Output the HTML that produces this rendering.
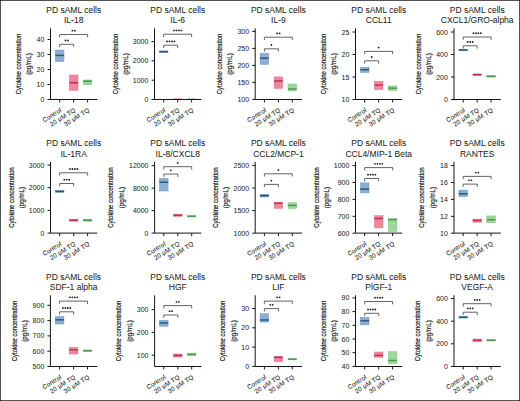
<!DOCTYPE html>
<html><head><meta charset="utf-8"><style>
html,body{margin:0;padding:0;background:#fff;}
svg{display:block;}
text{font-family:"Liberation Sans",sans-serif;fill:#1e1e1e;stroke:#1e1e1e;stroke-width:0;}
.t{font-size:8.5px;text-anchor:middle;stroke-width:0.05px;}
.yl{font-size:7.6px;text-anchor:middle;stroke-width:0.2px;}
.tk{font-size:7px;text-anchor:end;stroke-width:0.04px;}
.xl{font-size:6.3px;letter-spacing:0.12px;text-anchor:end;stroke-width:0.06px;}
.st{font-size:5.9px;text-anchor:middle;}
.ax{fill:none;stroke:#151515;stroke-width:1;}
.br{fill:none;stroke:#484848;stroke-width:0.85;}
</style></head><body>
<svg width="520" height="401" viewBox="0 0 520 401">
<rect x="0" y="0" width="520" height="401" fill="#fff"/>
<g><text class="t" x="73.7" y="12.6">PD sAML cells</text><text class="t" x="73.7" y="23">IL-18</text><text class="yl" transform="translate(20.5,64) rotate(-90)" x="0" y="0" textLength="60.5" lengthAdjust="spacingAndGlyphs">Cytokine concentration</text><text class="yl" transform="translate(31,64) rotate(-90)" x="0" y="0" textLength="21.5" lengthAdjust="spacingAndGlyphs">(pg/mL)</text><rect x="55.4" y="50" width="8.6" height="11.7" fill="#8aafd5" stroke="#6e95bf" stroke-width="0.5"/><line x1="55.4" x2="64" y1="55.4" y2="55.4" stroke="#30567c" stroke-width="1.5"/><rect x="69.4" y="75" width="8.6" height="15.4" fill="#ec879c" stroke="#d9758a" stroke-width="0.5"/><line x1="69.4" x2="78" y1="82.7" y2="82.7" stroke="#c2304f" stroke-width="1.5"/><rect x="83.3" y="80" width="8.6" height="4.7" fill="#9cd89a" stroke="#80c07e" stroke-width="0.5"/><line x1="83.3" x2="91.9" y1="81.2" y2="81.2" stroke="#4c9a4a" stroke-width="1.5"/><path class="ax" d="M50.5 28.3V99.5H97.3"/><path class="ax" d="M47.5 99.5H50.5"/><text class="tk" x="44.4" y="102">0</text><path class="ax" d="M47.5 84.5H50.5"/><text class="tk" x="44.4" y="87">10</text><path class="ax" d="M47.5 69.5H50.5"/><text class="tk" x="44.4" y="72">20</text><path class="ax" d="M47.5 54.5H50.5"/><text class="tk" x="44.4" y="57">30</text><path class="ax" d="M47.5 39.5H50.5"/><text class="tk" x="44.4" y="42">40</text><path class="ax" d="M59.7 99.5V102.5"/><text class="xl" transform="translate(62.1,111.3) rotate(-32)">Control</text><path class="ax" d="M73.7 99.5V102.5"/><text class="xl" transform="translate(76.1,111.3) rotate(-32)">20 μM TQ</text><path class="ax" d="M87.6 99.5V102.5"/><text class="xl" transform="translate(90,111.3) rotate(-32)">30 μM TQ</text><path class="br" d="M59.7 47.1V44.3H73.7V47.1"/><circle cx="65.48" cy="40.5" r="0.9" fill="#1c1c1c"/><circle cx="67.92" cy="40.5" r="0.9" fill="#1c1c1c"/><path class="br" d="M59.7 37.3V34.5H87.6V37.3"/><circle cx="72.43" cy="30.7" r="0.9" fill="#1c1c1c"/><circle cx="74.88" cy="30.7" r="0.9" fill="#1c1c1c"/></g>
<g><text class="t" x="177.7" y="12.6">PD sAML cells</text><text class="t" x="177.7" y="23">IL-6</text><text class="yl" transform="translate(117.6,64) rotate(-90)" x="0" y="0" textLength="60.5" lengthAdjust="spacingAndGlyphs">Cytokine concentration</text><text class="yl" transform="translate(128.1,64) rotate(-90)" x="0" y="0" textLength="21.5" lengthAdjust="spacingAndGlyphs">(pg/mL)</text><rect x="159.4" y="50.9" width="8.6" height="1.6" fill="#8aafd5" stroke="#6e95bf" stroke-width="0.5"/><line x1="159.4" x2="168" y1="51.7" y2="51.7" stroke="#30567c" stroke-width="1.5"/><rect x="173.4" y="98" width="8.6" height="1" fill="#d9758a" opacity="0.6"/><rect x="187.3" y="98" width="8.6" height="1" fill="#80c07e" opacity="0.6"/><path class="ax" d="M154.5 28.3V99.5H201.3"/><path class="ax" d="M151.5 99.5H154.5"/><text class="tk" x="148.4" y="102">0</text><path class="ax" d="M151.5 80.2H154.5"/><text class="tk" x="148.4" y="82.7">1000</text><path class="ax" d="M151.5 60.9H154.5"/><text class="tk" x="148.4" y="63.4">2000</text><path class="ax" d="M151.5 41.6H154.5"/><text class="tk" x="148.4" y="44.1">3000</text><path class="ax" d="M163.7 99.5V102.5"/><text class="xl" transform="translate(166.1,111.3) rotate(-32)">Control</text><path class="ax" d="M177.7 99.5V102.5"/><text class="xl" transform="translate(180.1,111.3) rotate(-32)">20 μM TQ</text><path class="ax" d="M191.6 99.5V102.5"/><text class="xl" transform="translate(194,111.3) rotate(-32)">30 μM TQ</text><path class="br" d="M163.7 48V45.2H177.7V48"/><circle cx="167.02" cy="41.4" r="0.9" fill="#1c1c1c"/><circle cx="169.47" cy="41.4" r="0.9" fill="#1c1c1c"/><circle cx="171.92" cy="41.4" r="0.9" fill="#1c1c1c"/><circle cx="174.38" cy="41.4" r="0.9" fill="#1c1c1c"/><path class="br" d="M163.7 37V34.2H191.6V37"/><circle cx="173.97" cy="30.4" r="0.9" fill="#1c1c1c"/><circle cx="176.42" cy="30.4" r="0.9" fill="#1c1c1c"/><circle cx="178.87" cy="30.4" r="0.9" fill="#1c1c1c"/><circle cx="181.32" cy="30.4" r="0.9" fill="#1c1c1c"/></g>
<g><text class="t" x="278.4" y="12.6">PD sAML cells</text><text class="t" x="278.4" y="23">IL-9</text><text class="yl" transform="translate(221.6,64) rotate(-90)" x="0" y="0" textLength="60.5" lengthAdjust="spacingAndGlyphs">Cytokine concentration</text><text class="yl" transform="translate(232.1,64) rotate(-90)" x="0" y="0" textLength="21.5" lengthAdjust="spacingAndGlyphs">(pg/mL)</text><rect x="260.1" y="53.3" width="8.6" height="11" fill="#8aafd5" stroke="#6e95bf" stroke-width="0.5"/><line x1="260.1" x2="268.7" y1="58.2" y2="58.2" stroke="#30567c" stroke-width="1.5"/><rect x="274.1" y="76.9" width="8.6" height="11.5" fill="#ec879c" stroke="#d9758a" stroke-width="0.5"/><line x1="274.1" x2="282.7" y1="81" y2="81" stroke="#c2304f" stroke-width="1.5"/><rect x="288" y="84" width="8.6" height="6.8" fill="#9cd89a" stroke="#80c07e" stroke-width="0.5"/><line x1="288" x2="296.6" y1="89" y2="89" stroke="#4c9a4a" stroke-width="1.5"/><path class="ax" d="M255.2 28.3V99.5H302"/><path class="ax" d="M252.2 99.4H255.2"/><text class="tk" x="249.1" y="101.9">100</text><path class="ax" d="M252.2 82.4H255.2"/><text class="tk" x="249.1" y="84.9">150</text><path class="ax" d="M252.2 65.4H255.2"/><text class="tk" x="249.1" y="67.9">200</text><path class="ax" d="M252.2 48.4H255.2"/><text class="tk" x="249.1" y="50.9">250</text><path class="ax" d="M252.2 31.4H255.2"/><text class="tk" x="249.1" y="33.9">300</text><path class="ax" d="M264.4 99.5V102.5"/><text class="xl" transform="translate(266.8,111.3) rotate(-32)">Control</text><path class="ax" d="M278.4 99.5V102.5"/><text class="xl" transform="translate(280.8,111.3) rotate(-32)">20 μM TQ</text><path class="ax" d="M292.3 99.5V102.5"/><text class="xl" transform="translate(294.7,111.3) rotate(-32)">30 μM TQ</text><path class="br" d="M264.4 51.6V48.8H278.4V51.6"/><circle cx="271.4" cy="45" r="0.9" fill="#1c1c1c"/><path class="br" d="M264.4 40V37.2H292.3V40"/><circle cx="277.12" cy="33.4" r="0.9" fill="#1c1c1c"/><circle cx="279.58" cy="33.4" r="0.9" fill="#1c1c1c"/></g>
<g><text class="t" x="378.7" y="12.6">PD sAML cells</text><text class="t" x="378.7" y="23">CCL11</text><text class="yl" transform="translate(325.8,64) rotate(-90)" x="0" y="0" textLength="60.5" lengthAdjust="spacingAndGlyphs">Cytokine concentration</text><text class="yl" transform="translate(336.3,64) rotate(-90)" x="0" y="0" textLength="21.5" lengthAdjust="spacingAndGlyphs">(pg/mL)</text><rect x="360.4" y="67.3" width="8.6" height="5.2" fill="#8aafd5" stroke="#6e95bf" stroke-width="0.5"/><line x1="360.4" x2="369" y1="69.7" y2="69.7" stroke="#30567c" stroke-width="1.5"/><rect x="374.4" y="81.4" width="8.6" height="8.1" fill="#ec879c" stroke="#d9758a" stroke-width="0.5"/><line x1="374.4" x2="383" y1="85.1" y2="85.1" stroke="#c2304f" stroke-width="1.5"/><rect x="388.3" y="86" width="8.6" height="4.3" fill="#9cd89a" stroke="#80c07e" stroke-width="0.5"/><line x1="388.3" x2="396.9" y1="88.2" y2="88.2" stroke="#4c9a4a" stroke-width="1.5"/><path class="ax" d="M355.5 28.3V99.5H402.3"/><path class="ax" d="M352.5 99.5H355.5"/><text class="tk" x="349.4" y="102">10</text><path class="ax" d="M352.5 77H355.5"/><text class="tk" x="349.4" y="79.5">15</text><path class="ax" d="M352.5 54.5H355.5"/><text class="tk" x="349.4" y="57">20</text><path class="ax" d="M352.5 32H355.5"/><text class="tk" x="349.4" y="34.5">25</text><path class="ax" d="M364.7 99.5V102.5"/><text class="xl" transform="translate(367.1,111.3) rotate(-32)">Control</text><path class="ax" d="M378.7 99.5V102.5"/><text class="xl" transform="translate(381.1,111.3) rotate(-32)">20 μM TQ</text><path class="ax" d="M392.6 99.5V102.5"/><text class="xl" transform="translate(395,111.3) rotate(-32)">30 μM TQ</text><path class="br" d="M364.7 63.6V60.8H378.7V63.6"/><circle cx="371.7" cy="57" r="0.9" fill="#1c1c1c"/><path class="br" d="M364.7 54.2V51.4H392.6V54.2"/><circle cx="378.65" cy="47.6" r="0.9" fill="#1c1c1c"/></g>
<g><text class="t" x="477.2" y="12.6">PD sAML cells</text><text class="t" x="477.2" y="23">CXCL1/GRO-alpha</text><text class="yl" transform="translate(420.6,64) rotate(-90)" x="0" y="0" textLength="60.5" lengthAdjust="spacingAndGlyphs">Cytokine concentration</text><text class="yl" transform="translate(431.1,64) rotate(-90)" x="0" y="0" textLength="21.5" lengthAdjust="spacingAndGlyphs">(pg/mL)</text><rect x="458.9" y="49.2" width="8.6" height="1.6" fill="#8aafd5" stroke="#6e95bf" stroke-width="0.5"/><line x1="458.9" x2="467.5" y1="50" y2="50" stroke="#30567c" stroke-width="1.5"/><rect x="472.9" y="73.9" width="8.6" height="1.6" fill="#ec879c" stroke="#d9758a" stroke-width="0.5"/><line x1="472.9" x2="481.5" y1="74.7" y2="74.7" stroke="#c2304f" stroke-width="1.5"/><rect x="486.8" y="75.5" width="8.6" height="1.6" fill="#9cd89a" stroke="#80c07e" stroke-width="0.5"/><line x1="486.8" x2="495.4" y1="76.3" y2="76.3" stroke="#4c9a4a" stroke-width="1.5"/><path class="ax" d="M454 28.3V99.5H500.8"/><path class="ax" d="M451 99.5H454"/><text class="tk" x="447.9" y="102">0</text><path class="ax" d="M451 77H454"/><text class="tk" x="447.9" y="79.5">200</text><path class="ax" d="M451 54.5H454"/><text class="tk" x="447.9" y="57">400</text><path class="ax" d="M451 32H454"/><text class="tk" x="447.9" y="34.5">600</text><path class="ax" d="M463.2 99.5V102.5"/><text class="xl" transform="translate(465.6,111.3) rotate(-32)">Control</text><path class="ax" d="M477.2 99.5V102.5"/><text class="xl" transform="translate(479.6,111.3) rotate(-32)">20 μM TQ</text><path class="ax" d="M491.1 99.5V102.5"/><text class="xl" transform="translate(493.5,111.3) rotate(-32)">30 μM TQ</text><path class="br" d="M463.2 48.6V45.8H477.2V48.6"/><circle cx="467.75" cy="42" r="0.9" fill="#1c1c1c"/><circle cx="470.2" cy="42" r="0.9" fill="#1c1c1c"/><circle cx="472.65" cy="42" r="0.9" fill="#1c1c1c"/><path class="br" d="M463.2 39.8V37H491.1V39.8"/><circle cx="473.47" cy="33.2" r="0.9" fill="#1c1c1c"/><circle cx="475.92" cy="33.2" r="0.9" fill="#1c1c1c"/><circle cx="478.38" cy="33.2" r="0.9" fill="#1c1c1c"/><circle cx="480.82" cy="33.2" r="0.9" fill="#1c1c1c"/></g>
<g><text class="t" x="73.7" y="146.2">PD sAML cells</text><text class="t" x="73.7" y="156.6">IL-1RA</text><text class="yl" transform="translate(13.6,197.6) rotate(-90)" x="0" y="0" textLength="60.5" lengthAdjust="spacingAndGlyphs">Cytokine concentration</text><text class="yl" transform="translate(24.1,197.6) rotate(-90)" x="0" y="0" textLength="21.5" lengthAdjust="spacingAndGlyphs">(pg/mL)</text><rect x="55.4" y="190.4" width="8.6" height="2" fill="#8aafd5" stroke="#6e95bf" stroke-width="0.5"/><line x1="55.4" x2="64" y1="191.4" y2="191.4" stroke="#30567c" stroke-width="1.5"/><rect x="69.4" y="219.2" width="8.6" height="2" fill="#ec879c" stroke="#d9758a" stroke-width="0.5"/><line x1="69.4" x2="78" y1="220.2" y2="220.2" stroke="#c2304f" stroke-width="1.5"/><rect x="83.3" y="219.2" width="8.6" height="2" fill="#9cd89a" stroke="#80c07e" stroke-width="0.5"/><line x1="83.3" x2="91.9" y1="220.2" y2="220.2" stroke="#4c9a4a" stroke-width="1.5"/><path class="ax" d="M50.5 161.9V233.1H97.3"/><path class="ax" d="M47.5 233.1H50.5"/><text class="tk" x="44.4" y="235.6">0</text><path class="ax" d="M47.5 210.4H50.5"/><text class="tk" x="44.4" y="212.9">1000</text><path class="ax" d="M47.5 187.7H50.5"/><text class="tk" x="44.4" y="190.2">2000</text><path class="ax" d="M47.5 165H50.5"/><text class="tk" x="44.4" y="167.5">3000</text><path class="ax" d="M59.7 233.1V236.1"/><text class="xl" transform="translate(62.1,244.9) rotate(-32)">Control</text><path class="ax" d="M73.7 233.1V236.1"/><text class="xl" transform="translate(76.1,244.9) rotate(-32)">20 μM TQ</text><path class="ax" d="M87.6 233.1V236.1"/><text class="xl" transform="translate(90,244.9) rotate(-32)">30 μM TQ</text><path class="br" d="M59.7 186.3V183.5H73.7V186.3"/><circle cx="64.25" cy="179.7" r="0.9" fill="#1c1c1c"/><circle cx="66.7" cy="179.7" r="0.9" fill="#1c1c1c"/><circle cx="69.15" cy="179.7" r="0.9" fill="#1c1c1c"/><path class="br" d="M59.7 175.6V172.8H87.6V175.6"/><circle cx="69.98" cy="169" r="0.9" fill="#1c1c1c"/><circle cx="72.43" cy="169" r="0.9" fill="#1c1c1c"/><circle cx="74.88" cy="169" r="0.9" fill="#1c1c1c"/><circle cx="77.33" cy="169" r="0.9" fill="#1c1c1c"/></g>
<g><text class="t" x="177.8" y="146.2">PD sAML cells</text><text class="t" x="177.8" y="156.6">IL-8/CXCL8</text><text class="yl" transform="translate(113.4,197.6) rotate(-90)" x="0" y="0" textLength="60.5" lengthAdjust="spacingAndGlyphs">Cytokine concentration</text><text class="yl" transform="translate(123.9,197.6) rotate(-90)" x="0" y="0" textLength="21.5" lengthAdjust="spacingAndGlyphs">(pg/mL)</text><rect x="159.5" y="178.4" width="8.6" height="12.6" fill="#8aafd5" stroke="#6e95bf" stroke-width="0.5"/><line x1="159.5" x2="168.1" y1="182.2" y2="182.2" stroke="#30567c" stroke-width="1.5"/><rect x="173.5" y="214.2" width="8.6" height="2.1" fill="#ec879c" stroke="#d9758a" stroke-width="0.5"/><line x1="173.5" x2="182.1" y1="215.2" y2="215.2" stroke="#c2304f" stroke-width="1.5"/><rect x="187.4" y="215.6" width="8.6" height="1.4" fill="#9cd89a" stroke="#80c07e" stroke-width="0.5"/><line x1="187.4" x2="196" y1="216.3" y2="216.3" stroke="#4c9a4a" stroke-width="1.5"/><path class="ax" d="M154.6 161.9V233.1H201.4"/><path class="ax" d="M151.6 233.1H154.6"/><text class="tk" x="148.5" y="235.6">0</text><path class="ax" d="M151.6 210.6H154.6"/><text class="tk" x="148.5" y="213.1">4000</text><path class="ax" d="M151.6 188.1H154.6"/><text class="tk" x="148.5" y="190.6">8000</text><path class="ax" d="M151.6 165.6H154.6"/><text class="tk" x="148.5" y="168.1">12000</text><path class="ax" d="M163.8 233.1V236.1"/><text class="xl" transform="translate(166.2,244.9) rotate(-32)">Control</text><path class="ax" d="M177.8 233.1V236.1"/><text class="xl" transform="translate(180.2,244.9) rotate(-32)">20 μM TQ</text><path class="ax" d="M191.7 233.1V236.1"/><text class="xl" transform="translate(194.1,244.9) rotate(-32)">30 μM TQ</text><path class="br" d="M163.8 176.9V174.1H177.8V176.9"/><circle cx="170.8" cy="170.3" r="0.9" fill="#1c1c1c"/><path class="br" d="M163.8 169.5V166.7H191.7V169.5"/><circle cx="177.75" cy="162.9" r="0.9" fill="#1c1c1c"/></g>
<g><text class="t" x="278.4" y="146.2">PD sAML cells</text><text class="t" x="278.4" y="156.6">CCL2/MCP-1</text><text class="yl" transform="translate(217.6,197.6) rotate(-90)" x="0" y="0" textLength="60.5" lengthAdjust="spacingAndGlyphs">Cytokine concentration</text><text class="yl" transform="translate(228.1,197.6) rotate(-90)" x="0" y="0" textLength="21.5" lengthAdjust="spacingAndGlyphs">(pg/mL)</text><rect x="260.1" y="194.2" width="8.6" height="2.8" fill="#8aafd5" stroke="#6e95bf" stroke-width="0.5"/><line x1="260.1" x2="268.7" y1="195.7" y2="195.7" stroke="#30567c" stroke-width="1.5"/><rect x="274.1" y="202.2" width="8.6" height="6.2" fill="#ec879c" stroke="#d9758a" stroke-width="0.5"/><line x1="274.1" x2="282.7" y1="203.2" y2="203.2" stroke="#c2304f" stroke-width="1.5"/><rect x="288" y="202.8" width="8.6" height="5.6" fill="#9cd89a" stroke="#80c07e" stroke-width="0.5"/><line x1="288" x2="296.6" y1="205.4" y2="205.4" stroke="#4c9a4a" stroke-width="1.5"/><path class="ax" d="M255.2 161.9V233.1H302"/><path class="ax" d="M252.2 233.2H255.2"/><text class="tk" x="249.1" y="235.7">1000</text><path class="ax" d="M252.2 210.6H255.2"/><text class="tk" x="249.1" y="213.1">1500</text><path class="ax" d="M252.2 188H255.2"/><text class="tk" x="249.1" y="190.5">2000</text><path class="ax" d="M252.2 165.4H255.2"/><text class="tk" x="249.1" y="167.9">2500</text><path class="ax" d="M264.4 233.1V236.1"/><text class="xl" transform="translate(266.8,244.9) rotate(-32)">Control</text><path class="ax" d="M278.4 233.1V236.1"/><text class="xl" transform="translate(280.8,244.9) rotate(-32)">20 μM TQ</text><path class="ax" d="M292.3 233.1V236.1"/><text class="xl" transform="translate(294.7,244.9) rotate(-32)">30 μM TQ</text><path class="br" d="M264.4 187.2V184.4H278.4V187.2"/><circle cx="271.4" cy="180.6" r="0.9" fill="#1c1c1c"/><path class="br" d="M264.4 176.6V173.8H292.3V176.6"/><circle cx="278.35" cy="170" r="0.9" fill="#1c1c1c"/></g>
<g><text class="t" x="378.7" y="146.2">PD sAML cells</text><text class="t" x="378.7" y="156.6">CCL4/MIP-1 Beta</text><text class="yl" transform="translate(318.6,197.6) rotate(-90)" x="0" y="0" textLength="60.5" lengthAdjust="spacingAndGlyphs">Cytokine concentration</text><text class="yl" transform="translate(329.1,197.6) rotate(-90)" x="0" y="0" textLength="21.5" lengthAdjust="spacingAndGlyphs">(pg/mL)</text><rect x="360.4" y="182.9" width="8.6" height="10" fill="#8aafd5" stroke="#6e95bf" stroke-width="0.5"/><line x1="360.4" x2="369" y1="189.1" y2="189.1" stroke="#30567c" stroke-width="1.5"/><rect x="374.4" y="215.7" width="8.6" height="12.2" fill="#ec879c" stroke="#d9758a" stroke-width="0.5"/><line x1="374.4" x2="383" y1="218.5" y2="218.5" stroke="#c2304f" stroke-width="1.5"/><rect x="388.3" y="218.5" width="8.6" height="12.8" fill="#9cd89a" stroke="#80c07e" stroke-width="0.5"/><line x1="388.3" x2="396.9" y1="219.7" y2="219.7" stroke="#4c9a4a" stroke-width="1.5"/><path class="ax" d="M355.5 161.9V233.1H402.3"/><path class="ax" d="M352.5 233.2H355.5"/><text class="tk" x="349.4" y="235.7">600</text><path class="ax" d="M352.5 216.3H355.5"/><text class="tk" x="349.4" y="218.8">700</text><path class="ax" d="M352.5 199.4H355.5"/><text class="tk" x="349.4" y="201.9">800</text><path class="ax" d="M352.5 182.5H355.5"/><text class="tk" x="349.4" y="185">900</text><path class="ax" d="M352.5 165.6H355.5"/><text class="tk" x="349.4" y="168.1">1000</text><path class="ax" d="M364.7 233.1V236.1"/><text class="xl" transform="translate(367.1,244.9) rotate(-32)">Control</text><path class="ax" d="M378.7 233.1V236.1"/><text class="xl" transform="translate(381.1,244.9) rotate(-32)">20 μM TQ</text><path class="ax" d="M392.6 233.1V236.1"/><text class="xl" transform="translate(395,244.9) rotate(-32)">30 μM TQ</text><path class="br" d="M364.7 181.3V178.5H378.7V181.3"/><circle cx="368.02" cy="174.7" r="0.9" fill="#1c1c1c"/><circle cx="370.47" cy="174.7" r="0.9" fill="#1c1c1c"/><circle cx="372.93" cy="174.7" r="0.9" fill="#1c1c1c"/><circle cx="375.38" cy="174.7" r="0.9" fill="#1c1c1c"/><path class="br" d="M364.7 170.4V167.6H392.6V170.4"/><circle cx="374.97" cy="163.8" r="0.9" fill="#1c1c1c"/><circle cx="377.42" cy="163.8" r="0.9" fill="#1c1c1c"/><circle cx="379.88" cy="163.8" r="0.9" fill="#1c1c1c"/><circle cx="382.32" cy="163.8" r="0.9" fill="#1c1c1c"/></g>
<g><text class="t" x="477.2" y="146.2">PD sAML cells</text><text class="t" x="477.2" y="156.6">RANTES</text><text class="yl" transform="translate(424.1,197.6) rotate(-90)" x="0" y="0" textLength="60.5" lengthAdjust="spacingAndGlyphs">Cytokine concentration</text><text class="yl" transform="translate(434.6,197.6) rotate(-90)" x="0" y="0" textLength="21.5" lengthAdjust="spacingAndGlyphs">(pg/mL)</text><rect x="458.9" y="190.1" width="8.6" height="6.5" fill="#8aafd5" stroke="#6e95bf" stroke-width="0.5"/><line x1="458.9" x2="467.5" y1="193.8" y2="193.8" stroke="#30567c" stroke-width="1.5"/><rect x="472.9" y="219.1" width="8.6" height="3.2" fill="#ec879c" stroke="#d9758a" stroke-width="0.5"/><line x1="472.9" x2="481.5" y1="220.4" y2="220.4" stroke="#c2304f" stroke-width="1.5"/><rect x="486.8" y="215.9" width="8.6" height="6.9" fill="#9cd89a" stroke="#80c07e" stroke-width="0.5"/><line x1="486.8" x2="495.4" y1="219.7" y2="219.7" stroke="#4c9a4a" stroke-width="1.5"/><path class="ax" d="M454 161.9V233.1H500.8"/><path class="ax" d="M451 233.2H454"/><text class="tk" x="447.9" y="235.7">10</text><path class="ax" d="M451 216.3H454"/><text class="tk" x="447.9" y="218.8">12</text><path class="ax" d="M451 199.4H454"/><text class="tk" x="447.9" y="201.9">14</text><path class="ax" d="M451 182.5H454"/><text class="tk" x="447.9" y="185">16</text><path class="ax" d="M451 165.6H454"/><text class="tk" x="447.9" y="168.1">18</text><path class="ax" d="M463.2 233.1V236.1"/><text class="xl" transform="translate(465.6,244.9) rotate(-32)">Control</text><path class="ax" d="M477.2 233.1V236.1"/><text class="xl" transform="translate(479.6,244.9) rotate(-32)">20 μM TQ</text><path class="ax" d="M491.1 233.1V236.1"/><text class="xl" transform="translate(493.5,244.9) rotate(-32)">30 μM TQ</text><path class="br" d="M463.2 186.9V184.1H477.2V186.9"/><circle cx="468.97" cy="180.3" r="0.9" fill="#1c1c1c"/><circle cx="471.43" cy="180.3" r="0.9" fill="#1c1c1c"/><path class="br" d="M463.2 179.2V176.4H491.1V179.2"/><circle cx="475.92" cy="172.6" r="0.9" fill="#1c1c1c"/><circle cx="478.38" cy="172.6" r="0.9" fill="#1c1c1c"/></g>
<g><text class="t" x="73.6" y="279.6">PD sAML cells</text><text class="t" x="73.6" y="290">SDF-1 alpha</text><text class="yl" transform="translate(16.6,331) rotate(-90)" x="0" y="0" textLength="60.5" lengthAdjust="spacingAndGlyphs">Cytokine concentration</text><text class="yl" transform="translate(27.1,331) rotate(-90)" x="0" y="0" textLength="21.5" lengthAdjust="spacingAndGlyphs">(pg/mL)</text><rect x="55.3" y="316.5" width="8.6" height="7.5" fill="#8aafd5" stroke="#6e95bf" stroke-width="0.5"/><line x1="55.3" x2="63.9" y1="319.8" y2="319.8" stroke="#30567c" stroke-width="1.5"/><rect x="69.3" y="347.4" width="8.6" height="6.6" fill="#ec879c" stroke="#d9758a" stroke-width="0.5"/><line x1="69.3" x2="77.9" y1="349.8" y2="349.8" stroke="#c2304f" stroke-width="1.5"/><rect x="83.2" y="350" width="8.6" height="1.4" fill="#9cd89a" stroke="#80c07e" stroke-width="0.5"/><line x1="83.2" x2="91.8" y1="350.7" y2="350.7" stroke="#4c9a4a" stroke-width="1.5"/><path class="ax" d="M50.4 295.3V366.5H97.2"/><path class="ax" d="M47.4 366.5H50.4"/><text class="tk" x="44.3" y="369">500</text><path class="ax" d="M47.4 351.2H50.4"/><text class="tk" x="44.3" y="353.7">600</text><path class="ax" d="M47.4 335.9H50.4"/><text class="tk" x="44.3" y="338.4">700</text><path class="ax" d="M47.4 320.6H50.4"/><text class="tk" x="44.3" y="323.1">800</text><path class="ax" d="M47.4 305.3H50.4"/><text class="tk" x="44.3" y="307.8">900</text><path class="ax" d="M59.6 366.5V369.5"/><text class="xl" transform="translate(62,378.3) rotate(-32)">Control</text><path class="ax" d="M73.6 366.5V369.5"/><text class="xl" transform="translate(76,378.3) rotate(-32)">20 μM TQ</text><path class="ax" d="M87.5 366.5V369.5"/><text class="xl" transform="translate(89.9,378.3) rotate(-32)">30 μM TQ</text><path class="br" d="M59.6 314.6V311.8H73.6V314.6"/><circle cx="62.92" cy="308" r="0.9" fill="#1c1c1c"/><circle cx="65.38" cy="308" r="0.9" fill="#1c1c1c"/><circle cx="67.82" cy="308" r="0.9" fill="#1c1c1c"/><circle cx="70.27" cy="308" r="0.9" fill="#1c1c1c"/><path class="br" d="M59.6 303.9V301.1H87.5V303.9"/><circle cx="69.88" cy="297.3" r="0.9" fill="#1c1c1c"/><circle cx="72.33" cy="297.3" r="0.9" fill="#1c1c1c"/><circle cx="74.77" cy="297.3" r="0.9" fill="#1c1c1c"/><circle cx="77.22" cy="297.3" r="0.9" fill="#1c1c1c"/></g>
<g><text class="t" x="177.8" y="279.6">PD sAML cells</text><text class="t" x="177.8" y="290">HGF</text><text class="yl" transform="translate(121.1,331) rotate(-90)" x="0" y="0" textLength="60.5" lengthAdjust="spacingAndGlyphs">Cytokine concentration</text><text class="yl" transform="translate(131.6,331) rotate(-90)" x="0" y="0" textLength="21.5" lengthAdjust="spacingAndGlyphs">(pg/mL)</text><rect x="159.5" y="320.2" width="8.6" height="6" fill="#8aafd5" stroke="#6e95bf" stroke-width="0.5"/><line x1="159.5" x2="168.1" y1="323" y2="323" stroke="#30567c" stroke-width="1.5"/><rect x="173.5" y="354" width="8.6" height="3.1" fill="#ec879c" stroke="#d9758a" stroke-width="0.5"/><line x1="173.5" x2="182.1" y1="355.4" y2="355.4" stroke="#c2304f" stroke-width="1.5"/><rect x="187.4" y="353.4" width="8.6" height="2.4" fill="#9cd89a" stroke="#80c07e" stroke-width="0.5"/><line x1="187.4" x2="196" y1="354.3" y2="354.3" stroke="#4c9a4a" stroke-width="1.5"/><path class="ax" d="M154.6 295.3V366.5H201.4"/><path class="ax" d="M151.6 355.2H154.6"/><text class="tk" x="148.5" y="357.7">100</text><path class="ax" d="M151.6 332.4H154.6"/><text class="tk" x="148.5" y="334.9">200</text><path class="ax" d="M151.6 309.6H154.6"/><text class="tk" x="148.5" y="312.1">300</text><path class="ax" d="M163.8 366.5V369.5"/><text class="xl" transform="translate(166.2,378.3) rotate(-32)">Control</text><path class="ax" d="M177.8 366.5V369.5"/><text class="xl" transform="translate(180.2,378.3) rotate(-32)">20 μM TQ</text><path class="ax" d="M191.7 366.5V369.5"/><text class="xl" transform="translate(194.1,378.3) rotate(-32)">30 μM TQ</text><path class="br" d="M163.8 317.8V315H177.8V317.8"/><circle cx="169.57" cy="311.2" r="0.9" fill="#1c1c1c"/><circle cx="172.02" cy="311.2" r="0.9" fill="#1c1c1c"/><path class="br" d="M163.8 308.4V305.6H191.7V308.4"/><circle cx="176.53" cy="301.8" r="0.9" fill="#1c1c1c"/><circle cx="178.97" cy="301.8" r="0.9" fill="#1c1c1c"/></g>
<g><text class="t" x="278.4" y="279.6">PD sAML cells</text><text class="t" x="278.4" y="290">LIF</text><text class="yl" transform="translate(225.4,331) rotate(-90)" x="0" y="0" textLength="60.5" lengthAdjust="spacingAndGlyphs">Cytokine concentration</text><text class="yl" transform="translate(235.9,331) rotate(-90)" x="0" y="0" textLength="21.5" lengthAdjust="spacingAndGlyphs">(pg/mL)</text><rect x="260.1" y="313.7" width="8.6" height="8.4" fill="#8aafd5" stroke="#6e95bf" stroke-width="0.5"/><line x1="260.1" x2="268.7" y1="320" y2="320" stroke="#30567c" stroke-width="1.5"/><rect x="274.1" y="356.4" width="8.6" height="5.4" fill="#ec879c" stroke="#d9758a" stroke-width="0.5"/><line x1="274.1" x2="282.7" y1="357.3" y2="357.3" stroke="#c2304f" stroke-width="1.5"/><rect x="288" y="358.5" width="8.6" height="1.4" fill="#9cd89a" stroke="#80c07e" stroke-width="0.5"/><line x1="288" x2="296.6" y1="359.2" y2="359.2" stroke="#4c9a4a" stroke-width="1.5"/><path class="ax" d="M255.2 295.3V366.5H302"/><path class="ax" d="M252.2 366.4H255.2"/><text class="tk" x="249.1" y="368.9">0</text><path class="ax" d="M252.2 347.1H255.2"/><text class="tk" x="249.1" y="349.6">10</text><path class="ax" d="M252.2 327.8H255.2"/><text class="tk" x="249.1" y="330.3">20</text><path class="ax" d="M252.2 308.5H255.2"/><text class="tk" x="249.1" y="311">30</text><path class="ax" d="M264.4 366.5V369.5"/><text class="xl" transform="translate(266.8,378.3) rotate(-32)">Control</text><path class="ax" d="M278.4 366.5V369.5"/><text class="xl" transform="translate(280.8,378.3) rotate(-32)">20 μM TQ</text><path class="ax" d="M292.3 366.5V369.5"/><text class="xl" transform="translate(294.7,378.3) rotate(-32)">30 μM TQ</text><path class="br" d="M264.4 311.4V308.6H278.4V311.4"/><circle cx="270.17" cy="304.8" r="0.9" fill="#1c1c1c"/><circle cx="272.62" cy="304.8" r="0.9" fill="#1c1c1c"/><path class="br" d="M264.4 303.9V301.1H292.3V303.9"/><circle cx="277.12" cy="297.3" r="0.9" fill="#1c1c1c"/><circle cx="279.58" cy="297.3" r="0.9" fill="#1c1c1c"/></g>
<g><text class="t" x="378.7" y="279.6">PD sAML cells</text><text class="t" x="378.7" y="290">PlGF-1</text><text class="yl" transform="translate(325.6,331) rotate(-90)" x="0" y="0" textLength="60.5" lengthAdjust="spacingAndGlyphs">Cytokine concentration</text><text class="yl" transform="translate(336.1,331) rotate(-90)" x="0" y="0" textLength="21.5" lengthAdjust="spacingAndGlyphs">(pg/mL)</text><rect x="360.4" y="317.4" width="8.6" height="7.5" fill="#8aafd5" stroke="#6e95bf" stroke-width="0.5"/><line x1="360.4" x2="369" y1="320.8" y2="320.8" stroke="#30567c" stroke-width="1.5"/><rect x="374.4" y="352" width="8.6" height="5.3" fill="#ec879c" stroke="#d9758a" stroke-width="0.5"/><line x1="374.4" x2="383" y1="355.4" y2="355.4" stroke="#c2304f" stroke-width="1.5"/><rect x="388.3" y="351.7" width="8.6" height="12" fill="#9cd89a" stroke="#80c07e" stroke-width="0.5"/><line x1="388.3" x2="396.9" y1="360.5" y2="360.5" stroke="#4c9a4a" stroke-width="1.5"/><path class="ax" d="M355.5 295.3V366.5H402.3"/><path class="ax" d="M352.5 366.4H355.5"/><text class="tk" x="349.4" y="368.9">40</text><path class="ax" d="M352.5 352.7H355.5"/><text class="tk" x="349.4" y="355.2">50</text><path class="ax" d="M352.5 339H355.5"/><text class="tk" x="349.4" y="341.5">60</text><path class="ax" d="M352.5 325.3H355.5"/><text class="tk" x="349.4" y="327.8">70</text><path class="ax" d="M352.5 311.6H355.5"/><text class="tk" x="349.4" y="314.1">80</text><path class="ax" d="M352.5 297.9H355.5"/><text class="tk" x="349.4" y="300.4">90</text><path class="ax" d="M364.7 366.5V369.5"/><text class="xl" transform="translate(367.1,378.3) rotate(-32)">Control</text><path class="ax" d="M378.7 366.5V369.5"/><text class="xl" transform="translate(381.1,378.3) rotate(-32)">20 μM TQ</text><path class="ax" d="M392.6 366.5V369.5"/><text class="xl" transform="translate(395,378.3) rotate(-32)">30 μM TQ</text><path class="br" d="M364.7 316.1V313.3H378.7V316.1"/><circle cx="368.02" cy="309.5" r="0.9" fill="#1c1c1c"/><circle cx="370.47" cy="309.5" r="0.9" fill="#1c1c1c"/><circle cx="372.93" cy="309.5" r="0.9" fill="#1c1c1c"/><circle cx="375.38" cy="309.5" r="0.9" fill="#1c1c1c"/><path class="br" d="M364.7 304.3V301.5H392.6V304.3"/><circle cx="374.97" cy="297.7" r="0.9" fill="#1c1c1c"/><circle cx="377.42" cy="297.7" r="0.9" fill="#1c1c1c"/><circle cx="379.88" cy="297.7" r="0.9" fill="#1c1c1c"/><circle cx="382.32" cy="297.7" r="0.9" fill="#1c1c1c"/></g>
<g><text class="t" x="477.2" y="279.6">PD sAML cells</text><text class="t" x="477.2" y="290">VEGF-A</text><text class="yl" transform="translate(420.4,331) rotate(-90)" x="0" y="0" textLength="60.5" lengthAdjust="spacingAndGlyphs">Cytokine concentration</text><text class="yl" transform="translate(430.9,331) rotate(-90)" x="0" y="0" textLength="21.5" lengthAdjust="spacingAndGlyphs">(pg/mL)</text><rect x="458.9" y="316.3" width="8.6" height="1.8" fill="#8aafd5" stroke="#6e95bf" stroke-width="0.5"/><line x1="458.9" x2="467.5" y1="317.2" y2="317.2" stroke="#30567c" stroke-width="1.5"/><rect x="472.9" y="339" width="8.6" height="2.8" fill="#ec879c" stroke="#d9758a" stroke-width="0.5"/><line x1="472.9" x2="481.5" y1="340.3" y2="340.3" stroke="#c2304f" stroke-width="1.5"/><rect x="486.8" y="339.6" width="8.6" height="1.4" fill="#9cd89a" stroke="#80c07e" stroke-width="0.5"/><line x1="486.8" x2="495.4" y1="340.3" y2="340.3" stroke="#4c9a4a" stroke-width="1.5"/><path class="ax" d="M454 295.3V366.5H500.8"/><path class="ax" d="M451 366.4H454"/><text class="tk" x="447.9" y="368.9">0</text><path class="ax" d="M451 343.8H454"/><text class="tk" x="447.9" y="346.3">200</text><path class="ax" d="M451 321.2H454"/><text class="tk" x="447.9" y="323.7">400</text><path class="ax" d="M451 298.6H454"/><text class="tk" x="447.9" y="301.1">600</text><path class="ax" d="M463.2 366.5V369.5"/><text class="xl" transform="translate(465.6,378.3) rotate(-32)">Control</text><path class="ax" d="M477.2 366.5V369.5"/><text class="xl" transform="translate(479.6,378.3) rotate(-32)">20 μM TQ</text><path class="ax" d="M491.1 366.5V369.5"/><text class="xl" transform="translate(493.5,378.3) rotate(-32)">30 μM TQ</text><path class="br" d="M463.2 315V312.2H477.2V315"/><circle cx="467.75" cy="308.4" r="0.9" fill="#1c1c1c"/><circle cx="470.2" cy="308.4" r="0.9" fill="#1c1c1c"/><circle cx="472.65" cy="308.4" r="0.9" fill="#1c1c1c"/><path class="br" d="M463.2 306.5V303.7H491.1V306.5"/><circle cx="474.7" cy="299.9" r="0.9" fill="#1c1c1c"/><circle cx="477.15" cy="299.9" r="0.9" fill="#1c1c1c"/><circle cx="479.6" cy="299.9" r="0.9" fill="#1c1c1c"/></g>
<g stroke="#000" stroke-opacity="0.67" stroke-width="1"><path d="M0 0.5H520"/><path d="M0 400.5H520"/><path d="M0.5 0V401"/><path d="M519.5 0V401"/></g>
</svg>
</body></html>
